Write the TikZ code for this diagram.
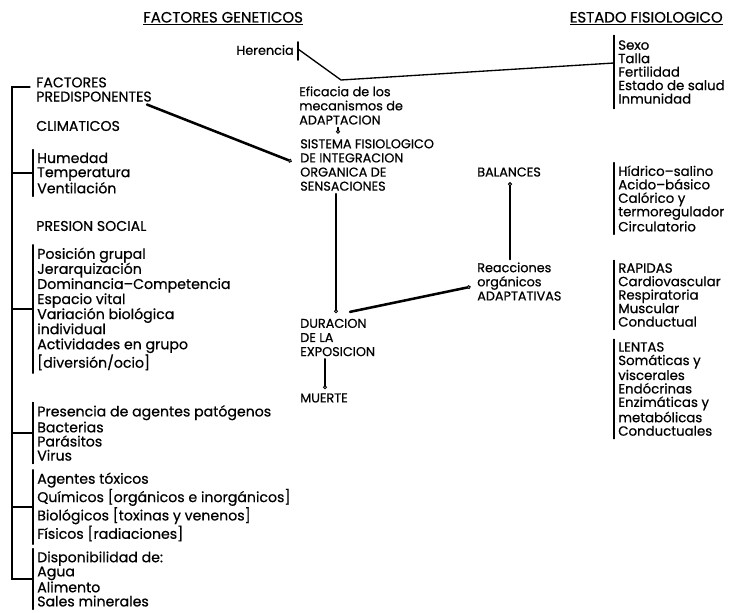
\documentclass[tikz,border=0pt]{standalone}
\usepackage{fontspec}
\setmainfont{Poppins}[FakeBold=0.6]
\usepackage{tikz}
\usetikzlibrary{arrows.meta}
\usetikzlibrary{calc}

\begin{document}
\begin{tikzpicture}[x=0.75pt, y=-0.75pt, line cap=round,
        head_style/.style={anchor=west, inner sep=0pt, font=\fontsize{11.2}{12}\selectfont},
        list_style/.style={anchor=west, align=left, inner xsep=0pt, inner ysep=2pt, font=\fontsize{9.6}{10.6}\selectfont},
        left_style/.style={list_style, font=\fontsize{10.6}{10.6}\selectfont},
        loose_style/.style={list_style, font=\fontsize{10.6}{11.3}\selectfont},
        tight_style/.style={list_style, font=\fontsize{10}{10.1}\selectfont},
        brace_style/.style={draw=black, line width=0.8pt},
        line_style/.style={draw=black, line width=1pt},
        edge_style/.style={draw=black, line width=1.1pt, shorten >=2pt, -{Circle[open, length=3pt, line width=0.7pt]}},
        bold_edge_style/.style={draw=black, line width=1.9pt, shorten >=1pt, -{Circle[open, length=3pt, line width=0.7pt]}}]

        \useasboundingbox (0,0) rectangle (731,613);

        % titulos
        \node [head_style, anchor=base west] (geneticos) at (143,22.5) {\underline{FACTORES GENETICOS}};

        \node [head_style, anchor=base east] (estado) at (723,22.5) {\underline{ESTADO FISIOLOGICO}};

        % columna izquierda
        \node [left_style] (factores) at (36,89.5) {FACTORES\\PREDISPONENTES};

        \node [left_style] (climaticos) at (36,126) {CLIMATICOS};

        \node [left_style] (clima) at (37,173) {Humedad\\Temperatura\\Ventilación};

        \node [left_style] (presion) at (36,226) {PRESION SOCIAL};

        \node [loose_style] (social) at (37,309) {Posición grupal\\Jerarquización\\Dominancia--Competencia\\Espacio vital\\Variación biológica\\individual\\Actividades en grupo\\{[}diversión/ocio{]}};

        \node [left_style] (patogenos) at (37,433) {Presencia de agentes patógenos\\Bacterias\\Parásitos\\Virus};

        \node [left_style] (toxicos) at (37,507) {Agentes tóxicos\\Químicos [orgánicos e inorgánicos]\\Biológicos [toxinas y venenos]\\Físicos [radiaciones]};

        \node [left_style] (disponib) at (37,579) {Disponibilidad de:\\Agua\\Alimento\\Sales minerales};

        \coordinate (b_top) at (12,87);
        \coordinate (b_bot) at (12,579);

        \draw [brace_style] ($(factores.west |- b_top)+(-6,0)$) -- (b_top) -- (b_bot) -- ($(disponib.west)+(-4,0)$);

        \draw [brace_style] ($(clima.north west)+(-4,0)$) -- ($(clima.south west)+(-4,0)$);
        \draw [brace_style] (b_top |- clima.west) -- ($(clima.west)+(-4,0)$);

        \draw [brace_style] ($(social.north west)+(-4,0)$) -- ($(social.south west)+(-4,0)$);
        \draw [brace_style] (b_top |- social.west) -- ($(social.west)+(-4,0)$);

        \draw [brace_style] ($(patogenos.north west)+(-4,0)$) -- ($(patogenos.south west)+(-4,0)$);
        \draw [brace_style] (b_top |- patogenos.west) -- ($(patogenos.west)+(-4,0)$);

        \draw [brace_style] ($(toxicos.north west)+(-4,0)$) -- ($(toxicos.south west)+(-4,0)$);
        \draw [brace_style] (b_top |- toxicos.west) -- ($(toxicos.west)+(-4,0)$);

        \draw [brace_style] ($(disponib.north west)+(-4,0)$) -- ($(disponib.south west)+(-4,0)$);

        % columna central
        \node [head_style, font=\fontsize{9.6}{10.6}\selectfont, anchor=east] (herencia) at (294,50) {Herencia};

        \node [list_style] (eficacia) at (299,105.5) {Eficacia de los\\mecanismos de\\ADAPTACION};

        \node [list_style] (sistema) at (300,165) {SISTEMA FISIOLOGICO\\DE INTEGRACION\\ORGANICA DE\\SENSACIONES};

        \node [list_style] (balances) at (477,172) {BALANCES};

        \node [list_style] (reacciones) at (477,281.5) {Reacciones\\orgánicos\\ADAPTATIVAS};

        \node [list_style] (duracion) at (300,337.5) {DURACION\\DE LA\\EXPOSICION};

        \node [list_style] (muerte) at (300,398) {MUERTE};

        % columna derecha
        \node [tight_style] (fisiologico) at (618,72) {Sexo\\Talla\\Fertilidad\\Estado de salud\\Inmunidad};

        \node [tight_style] (balance_list) at (618,198.5) {Hídrico--salino\\Acido--básico\\Calórico y\\termoregulador\\Circulatorio};

        \node [tight_style] (rapidas) at (618,295) {RAPIDAS\\Cardiovascular\\Respiratoria\\Muscular\\Conductual};

        \node [tight_style] (lentas) at (618,389) {LENTAS\\Somáticas y\\viscerales\\Endócrinas\\Enzimáticas y\\metabólicas\\Conductuales};

        \draw [brace_style] ($(fisiologico.north west)+(-4,-2)$) -- ($(fisiologico.south west)+(-4,2)$);
        \draw [brace_style] ($(balance_list.north west)+(-4,0)$) -- ($(balance_list.south west)+(-4,0)$);
        \draw [brace_style] ($(rapidas.north west)+(-4,0)$) -- ($(rapidas.south west)+(-4,0)$);
        \draw [brace_style] ($(lentas.north west)+(-4,0)$) -- ($(lentas.south west)+(-4,0)$);

        % conexiones
        \draw [brace_style] ($(herencia.north east)+(4,-3)$) -- ($(herencia.south east)+(4,5)$);

        \coordinate (h_bend) at (341,80);
        \coordinate (e_in) at ($(fisiologico.west)+(-4,-9)$);

        \draw [line_style] ($(herencia.east)+(4,-1)$) -- (h_bend) -- (e_in);

        \coordinate (v_a) at (338,0);
        \coordinate (v_b) at (336,0);
        \coordinate (v_c) at (350,0);
        \coordinate (v_d) at (325,0);
        \coordinate (v_e) at (510,0);

        \draw [edge_style, line width=0.8pt] (eficacia.south -| v_a) -- (sistema.north -| v_a);

        \draw [bold_edge_style] ($(factores.south east)+(-5,0)$) -- ($(sistema.west)+(-7,-3)$);

        \draw [edge_style] (sistema.south -| v_b) -- (duracion.north -| v_b);

        \draw [bold_edge_style] ($(duracion.north -| v_c)+(0,-4)$) -- ($(reacciones.west)+(-5,5)$);

        \draw [bold_edge_style] (duracion.south -| v_d) -- (muerte.north -| v_d);

        \draw [edge_style] (reacciones.north -| v_e) -- (balances.south -| v_e);

        \end{tikzpicture}
\end{document}
